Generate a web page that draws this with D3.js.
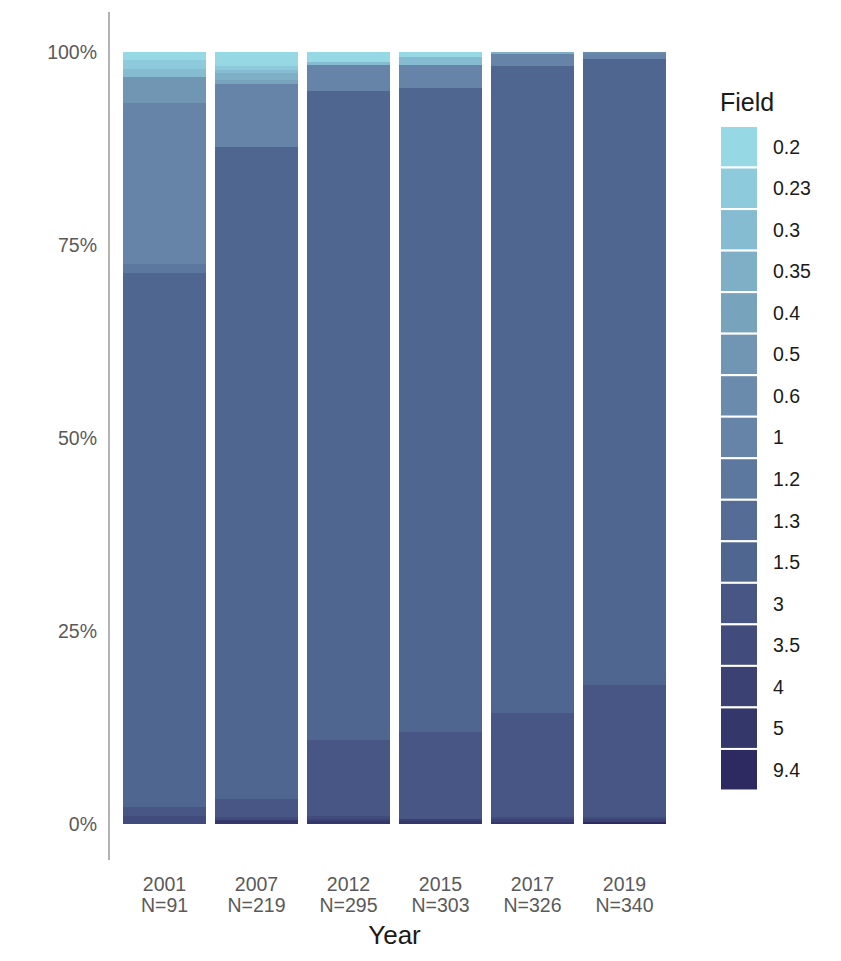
<!DOCTYPE html>
<html>
<head>
<meta charset="utf-8">
<script src="https://cdn.jsdelivr.net/npm/d3@7"></script>
<style>
  html, body { margin: 0; padding: 0; background: #ffffff; }
  svg { display: block; }
  text { font-family: "Liberation Sans", Arial, Helvetica, sans-serif; }
</style>
</head>
<body>
<svg id="chart" width="841" height="961"></svg>
<script>
// ---- data ----
const years = ["2001", "2007", "2012", "2015", "2017", "2019"];
const sampleSizes = ["N=91", "N=219", "N=295", "N=303", "N=326", "N=340"];
const fields = ["0.2", "0.23", "0.3", "0.35", "0.4", "0.5", "0.6", "1", "1.2", "1.3", "1.5", "3", "3.5", "4", "5", "9.4"];
const fieldColors = ["#96d9e5", "#8dcadb", "#86bcd1", "#7fafc7", "#78a3bd", "#7096b3", "#6a8bab", "#6584a7",
                     "#5d789f", "#556d96", "#4e6690", "#475684", "#424c7c", "#3b4172", "#34376a", "#2c2a61"];
// counts per field (same order as fields) for each year
const counts2001 = [1, 1, 1, 0, 0, 3, 0, 19, 1, 0, 63, 1, 1, 0, 0, 0];
const counts2007 = [4, 1, 1, 2, 1, 0, 0, 18, 0, 0, 185, 5, 1, 0, 1, 0];
const counts2012 = [4, 0, 1, 0, 0, 0, 0, 10, 0, 0, 248, 29, 1, 1, 1, 0];
const counts2015 = [2, 0, 3, 0, 0, 0, 0, 9, 0, 0, 253, 34, 0, 1, 1, 0];
const counts2017 = [0, 0, 0, 1, 0, 0, 0, 5, 0, 0, 273, 44, 1, 1, 1, 0];
const counts2019 = [0, 0, 0, 0, 0, 0, 1, 2, 0, 0, 276, 58, 1, 1, 0, 1];
const yTicks = [0, 0.25, 0.5, 0.75, 1];

const countsByYear = [counts2001, counts2007, counts2012, counts2015, counts2017, counts2019];
const table = years.map((y, i) => {
  const row = { year: y };
  fields.forEach((f, j) => { row[f] = countsByYear[i][j]; });
  return row;
});

// ---- scales ----
const svg = d3.select("#chart");
const x = d3.scaleBand().domain(years).range([118.5, 670.5]).paddingInner(0.1).paddingOuter(0.05);
const y = d3.scaleLinear().domain([0, 1]).range([824, 52]);
const color = d3.scaleOrdinal().domain(fields).range(fieldColors);

// stack: last field (9.4) at bottom
const stackKeys = fields.slice().reverse();
const series = d3.stack().keys(stackKeys).offset(d3.stackOffsetExpand)(table);

// ---- bars ----
const g = svg.append("g").attr("shape-rendering", "crispEdges");
g.selectAll("g.layer").data(series).join("g")
  .attr("class", "layer")
  .attr("fill", d => color(d.key))
  .selectAll("rect").data(d => d).join("rect")
  .attr("x", d => x(d.data.year))
  .attr("width", x.bandwidth())
  .attr("y", d => y(d[1]))
  .attr("height", d => Math.max(0, y(d[0]) - y(d[1])));

// ---- y axis ----
svg.append("line")
  .attr("x1", 109).attr("x2", 109).attr("y1", 12).attr("y2", 860)
  .attr("stroke", "#b3b3b3").attr("stroke-width", 2);

const yAxis = svg.append("g").attr("transform", "translate(109,0)")
  .call(d3.axisLeft(y).tickValues(yTicks).tickFormat(d3.format(".0%")).tickSize(0).tickPadding(12));
yAxis.select(".domain").remove();
yAxis.selectAll("text").attr("font-size", 19.5).attr("fill", "#5a5a5a")
  .style("font-family", "'Liberation Sans', Arial, sans-serif");

// ---- x axis ----
const xAxis = svg.append("g").attr("transform", "translate(0,860)")
  .call(d3.axisBottom(x).tickSize(0).tickFormat(() => ""));
xAxis.select(".domain").remove();
xAxis.selectAll(".tick").each(function (d, i) {
  const t = d3.select(this).append("text")
    .attr("text-anchor", "middle").attr("fill", "#5a5a5a").attr("font-size", 19.5)
    .style("font-family", "'Liberation Sans', Arial, sans-serif");
  t.append("tspan").attr("x", 0).attr("y", 31).text(d);
  t.append("tspan").attr("x", 0).attr("y", 52).text(sampleSizes[i]);
});

svg.append("text")
  .attr("x", (x.range()[0] + x.range()[1]) / 2).attr("y", 944)
  .attr("text-anchor", "middle").attr("font-size", 26).attr("fill", "#1a1a1a")
  .text("Year");

// ---- legend ----
const legend = svg.append("g").attr("transform", "translate(720,0)");
legend.append("text").attr("x", 0).attr("y", 111).attr("font-size", 25).attr("fill", "#1a1a1a").text("Field");
const pitch = 41.53;
const items = legend.selectAll("g.item").data(fields).join("g")
  .attr("class", "item")
  .attr("transform", (d, i) => `translate(0,${126 + i * pitch})`);
items.append("rect")
  .attr("x", 0).attr("y", 0).attr("width", 38).attr("height", pitch)
  .attr("fill", d => color(d)).attr("stroke", "#ffffff").attr("stroke-width", 2);
items.append("text")
  .attr("x", 53).attr("y", pitch / 2 + 7).attr("font-size", 19.5).attr("fill", "#1a1a1a")
  .text(d => d);
</script>
</body>
</html>
